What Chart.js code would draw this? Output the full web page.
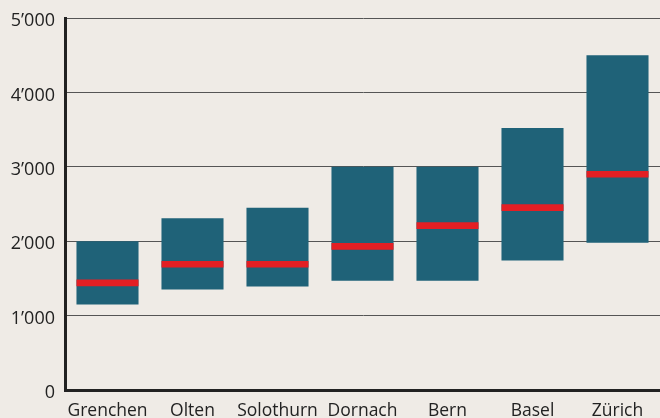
<!DOCTYPE html>
<html lang="de">
<head>
    <meta charset="UTF-8">
    <title>Spannweite und Median</title>
    <script src="https://cdn.jsdelivr.net/npm/chart.js"></script>
    <style>
        html, body {
            margin: 0;
            padding: 0;
            background: #efebe6;
        }
        #wrap {
            width: 660px;
            height: 418px;
        }
    </style>
</head>
<body>
    <div id="wrap"><canvas id="rangeChart"></canvas></div>

    <script>
        const cities = ["Grenchen", "Olten", "Solothurn", "Dornach", "Bern", "Basel", "Zürich"];
        const minValues = [1150, 1350, 1390, 1470, 1470, 1740, 1980];
        const maxValues = [2000, 2310, 2450, 3000, 3000, 3520, 4500];
        const medianValues = [1440, 1690, 1690, 1930, 2210, 2450, 2900];
        const yTicks = [0, 1000, 2000, 3000, 4000, 5000];

        // half thickness of the median marker, in data units
        const medianHalf = 45;

        function formatThousands(v) {
            if (v === 0) return "0";
            const s = String(v);
            return s.slice(0, s.length - 3) + "\u2019" + s.slice(s.length - 3);
        }

        const ctx = document.getElementById("rangeChart").getContext("2d");

        const chart = new Chart(ctx, {
            type: "bar",
            data: {
                labels: cities,
                datasets: [
                    {
                        label: "Median",
                        data: medianValues.map(m => [m - medianHalf, m + medianHalf]),
                        backgroundColor: "#e31f24",
                        grouped: false,
                        order: 0,
                        categoryPercentage: 0.73,
                        barPercentage: 1
                    },
                    {
                        label: "Spannweite",
                        data: minValues.map((v, i) => [v, maxValues[i]]),
                        backgroundColor: "#1f6278",
                        grouped: false,
                        order: 1,
                        categoryPercentage: 0.73,
                        barPercentage: 1
                    }
                ]
            },
            options: {
                responsive: true,
                maintainAspectRatio: false,
                animation: false,
                layout: {
                    padding: { top: 18, right: 0, left: 0, bottom: 0 }
                },
                plugins: {
                    legend: { display: false },
                    tooltip: { enabled: false }
                },
                scales: {
                    x: {
                        grid: { display: false, drawTicks: false },
                        border: { display: true, color: "#222", width: 3 },
                        ticks: {
                            color: "#222",
                            padding: 11,
                            font: { family: "Open Sans", size: 17.5 },
                            maxRotation: 0,
                            autoSkip: false
                        },
                        afterFit: scale => { scale.height = 28; }
                    },
                    y: {
                        min: 0,
                        max: 5000,
                        afterBuildTicks: scale => {
                            scale.ticks = yTicks.map(v => ({ value: v }));
                        },
                        grid: { color: "#555", lineWidth: 1, drawTicks: false },
                        border: { display: true, color: "#222", width: 3 },
                        ticks: {
                            color: "#222",
                            padding: 10,
                            labelOffset: 3,
                            font: { family: "Open Sans", size: 18, lineHeight: 1 },
                            callback: v => formatThousands(v)
                        },
                        afterFit: scale => {
                            scale.width = 65;
                            scale.paddingTop = 0;
                            scale.paddingBottom = 0;
                        }
                    }
                }
            }
        });
    </script>
</body>
</html>
